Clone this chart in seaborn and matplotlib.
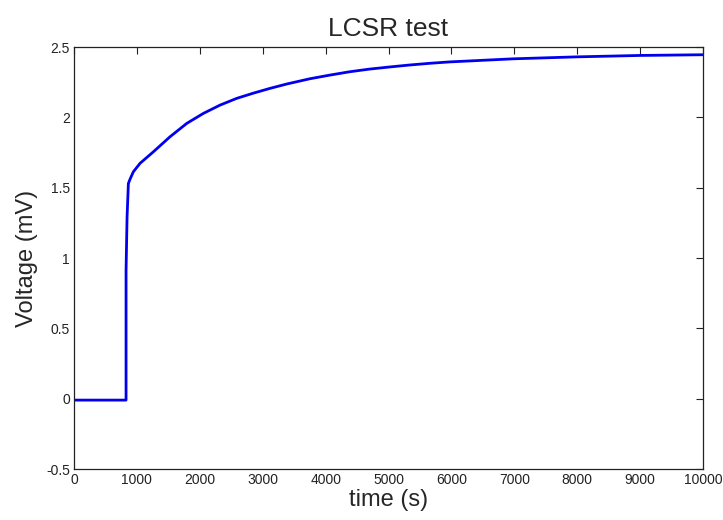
import pandas as pd
import matplotlib
matplotlib.use("Agg")
import matplotlib.pyplot as plt
import seaborn as sns

# values
time_s = [0, 400, 827, 827, 843, 864, 890, 943, 1049, 1261, 1526, 1792, 2056,
          2321, 2587, 2851, 3116, 3382, 3746, 4063, 4381, 4698, 5016, 5333,
          5651, 5968, 6980, 7997, 9000, 10000]
voltage_mv = [-0.01, -0.01, -0.01, 0.91, 1.29, 1.53, 1.56, 1.613, 1.673, 1.755,
              1.862, 1.957, 2.028, 2.087, 2.135, 2.172, 2.206, 2.237, 2.274,
              2.300, 2.324, 2.343, 2.358, 2.372, 2.384, 2.394, 2.416, 2.43,
              2.44, 2.445]

x_ticks = [0, 1000, 2000, 3000, 4000, 5000, 6000, 7000, 8000, 9000, 10000]
y_ticks = [-0.5, 0, 0.5, 1, 1.5, 2, 2.5]
y_tick_labels = ["-0.5", "0", "0.5", "1", "1.5", "2", "2.5"]

df = pd.DataFrame({"time": time_s, "voltage": voltage_mv})

sns.set_style("white")
plt.rcParams["font.family"] = ["Liberation Sans", "DejaVu Sans"]

fig = plt.figure(figsize=(7.23, 5.2), dpi=100)
ax = fig.add_axes([0.1024, 0.098, 0.870, 0.8116])

sns.lineplot(data=df, x="time", y="voltage", sort=False, estimator=None,
             color="#0000ee", linewidth=2.0, ax=ax)

ax.set_xlim(0, 10000)
ax.set_ylim(-0.5, 2.5)
ax.set_xticks(x_ticks)
ax.set_xticklabels([str(t) for t in x_ticks])
ax.set_yticks(y_ticks)
ax.set_yticklabels(y_tick_labels)
ax.tick_params(direction="in", top=True, right=True, length=5, width=0.8,
               labelsize=10, pad=3, colors="#222222")
for s in ax.spines.values():
    s.set_color("#222222")
    s.set_linewidth(0.9)

ax.set_title("LCSR test", fontsize=19, pad=8)
ax.set_xlabel("time (s)", fontsize=17, labelpad=1)
ax.set_ylabel("Voltage (mV)", fontsize=17, labelpad=6)

fig.savefig("out.png", dpi=100)
